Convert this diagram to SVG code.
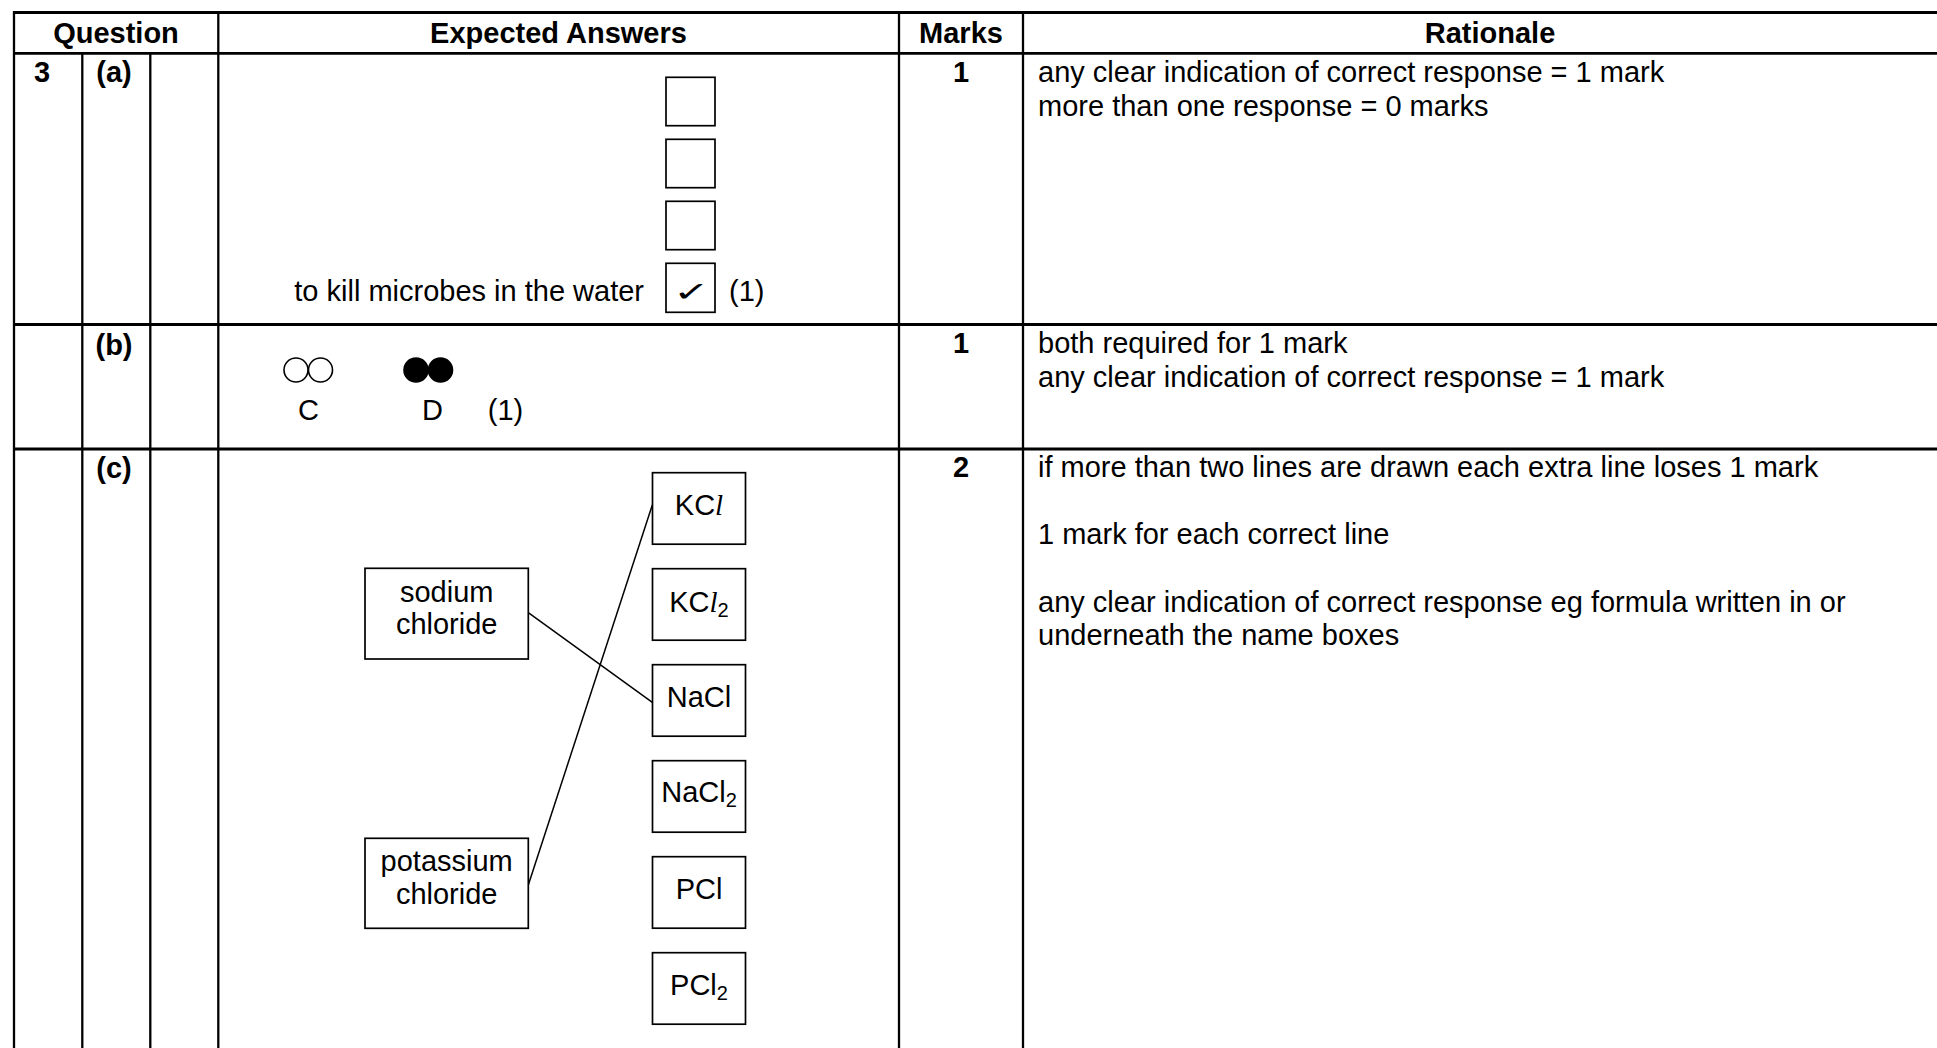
<svg xmlns="http://www.w3.org/2000/svg" width="1937" height="1048" viewBox="0 0 1937 1048">
<style>
text{font-family:"Liberation Sans",Arial,sans-serif;font-size:29px;fill:#000}
.b{font-weight:bold}
.m{text-anchor:middle}
.e{text-anchor:end}
.h{stroke:#000;stroke-width:2.8;fill:none}
.v{stroke:#000;stroke-width:2.3;fill:none}
.box{stroke:#000;stroke-width:1.7;fill:#fff}
.conn{stroke:#000;stroke-width:1.5;fill:none}
.sub{font-size:20px}
.it{font-family:"Liberation Serif","Times New Roman",serif;font-style:italic}
</style>
<rect width="1937" height="1048" fill="#fff"/>
<g id="table">
  <g class="h">
    <line x1="13" y1="12.5" x2="1937" y2="12.5"/>
    <line x1="13" y1="53.3" x2="1937" y2="53.3"/>
    <line x1="13" y1="324.5" x2="1937" y2="324.5"/>
    <line x1="13" y1="449" x2="1937" y2="449"/>
  </g>
  <g class="v">
    <line x1="14" y1="11" x2="14" y2="1048"/>
    <line x1="82.3" y1="53.3" x2="82.3" y2="1048"/>
    <line x1="150.3" y1="53.3" x2="150.3" y2="1048"/>
    <line x1="218.3" y1="11" x2="218.3" y2="1048"/>
    <line x1="899" y1="11" x2="899" y2="1048"/>
    <line x1="1023" y1="11" x2="1023" y2="1048"/>
  </g>
  <text class="b m" x="116" y="43">Question</text>
  <text class="b m" x="558.5" y="43">Expected Answers</text>
  <text class="b m" x="961" y="43">Marks</text>
  <text class="b m" x="1490" y="43">Rationale</text>
</g>
<g id="row-a">
  <text class="b m" x="42" y="82">3</text>
  <text class="b m" x="114" y="82">(a)</text>
  <rect class="box" x="666" y="77.3" width="49" height="48.4"/>
  <rect class="box" x="666" y="139.3" width="49" height="48.4"/>
  <rect class="box" x="666" y="201.3" width="49" height="48.4"/>
  <rect class="box" x="666" y="263.3" width="49" height="49"/>
  <text class="m" transform="translate(691.5,301) scale(1,0.62)" style="font-family:'DejaVu Sans',sans-serif;font-size:44px">✓</text>
  <text class="e" x="644" y="300.5">to kill microbes in the water</text>
  <text x="729" y="300.5">(1)</text>
  <text class="b m" x="961" y="82">1</text>
  <text x="1038" y="82">any clear indication of correct response = 1 mark</text>
  <text x="1038" y="115.5">more than one response = 0 marks</text>
</g>
<g id="row-b">
  <text class="b m" x="114" y="355">(b)</text>
  <g stroke="#000" stroke-width="1.6">
    <circle cx="296" cy="370" r="12" fill="#fff"/>
    <circle cx="320.5" cy="370" r="12" fill="none"/>
    <circle cx="416" cy="370" r="12" fill="#000"/>
    <circle cx="440.5" cy="370" r="12" fill="#000"/>
  </g>
  <text class="m" x="308.5" y="420">C</text>
  <text class="m" x="432.5" y="420">D</text>
  <text class="m" x="505.5" y="420">(1)</text>
  <text class="b m" x="961" y="353">1</text>
  <text x="1038" y="353">both required for 1 mark</text>
  <text x="1038" y="386.5">any clear indication of correct response = 1 mark</text>
</g>
<g id="row-c">
  <text class="b m" x="114" y="478">(c)</text>
  <text class="b m" x="961" y="477">2</text>
  <text x="1038" y="477">if more than two lines are drawn each extra line loses 1 mark</text>
  <text x="1038" y="543.5">1 mark for each correct line</text>
  <text x="1038" y="611.5">any clear indication of correct response eg formula written in or</text>
  <text x="1038" y="645">underneath the name boxes</text>
</g>
<g id="connectors">
  <line class="conn" x1="528.3" y1="612.7" x2="652.7" y2="702.7"/>
  <line class="conn" x1="528.3" y1="885" x2="652.3" y2="505"/>
</g>
<g id="node-sodium-chloride">
  <rect class="box" x="365" y="568.3" width="163.3" height="90.7"/>
  <text class="m" x="446.7" y="602">sodium</text>
  <text class="m" x="446.7" y="633.5">chloride</text>
</g>
<g id="node-potassium-chloride">
  <rect class="box" x="365" y="838.3" width="163.3" height="90"/>
  <text class="m" x="446.7" y="871">potassium</text>
  <text class="m" x="446.7" y="903.5">chloride</text>
</g>
<g id="node-KCl">
  <rect class="box" x="652.5" y="472.7" width="93" height="71.5"/>
  <text class="m" x="699" y="515">KC<tspan class="it">l</tspan></text>
</g>
<g id="node-KCl2">
  <rect class="box" x="652.5" y="568.7" width="93" height="71.5"/>
  <text class="m" x="699" y="612">KC<tspan class="it">l</tspan><tspan class="sub" dy="5">2</tspan></text>
</g>
<g id="node-NaCl">
  <rect class="box" x="652.5" y="664.7" width="93" height="71.5"/>
  <text class="m" x="699" y="707">NaCl</text>
</g>
<g id="node-NaCl2">
  <rect class="box" x="652.5" y="760.7" width="93" height="71.5"/>
  <text class="m" x="699" y="802">NaCl<tspan class="sub" dy="5">2</tspan></text>
</g>
<g id="node-PCl">
  <rect class="box" x="652.5" y="856.7" width="93" height="71.5"/>
  <text class="m" x="699" y="898.5">PCl</text>
</g>
<g id="node-PCl2">
  <rect class="box" x="652.5" y="952.7" width="93" height="71.5"/>
  <text class="m" x="699" y="995">PCl<tspan class="sub" dy="5">2</tspan></text>
</g>
</svg>
